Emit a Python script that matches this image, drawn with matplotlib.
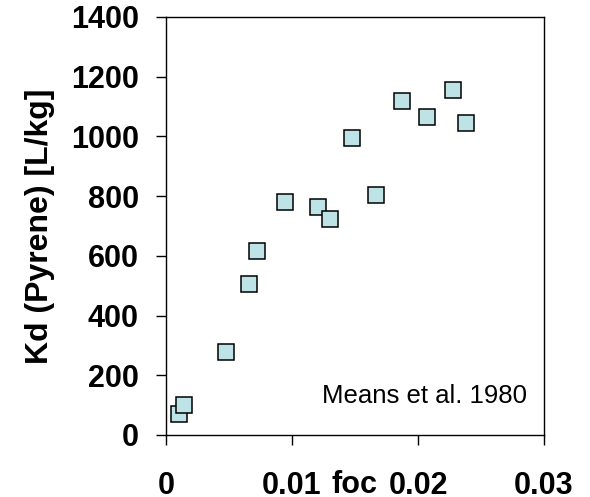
import matplotlib
matplotlib.use('Agg')
import matplotlib.pyplot as plt

# organic carbon fraction vs sorption coefficient for pyrene
foc = [0.00103, 0.00143, 0.00476, 0.00656, 0.0072, 0.00947, 0.01206,
       0.01302, 0.01474, 0.01669, 0.01876, 0.02071, 0.02275, 0.02378]
kd = [71, 101, 277, 507, 616, 781, 762, 722, 995, 805, 1117, 1064, 1154, 1044]

xticks = [0, 0.01, 0.02, 0.03]
xticklabels = ['0', '0.01', '0.02', '0.03']
yticks = [0, 200, 400, 600, 800, 1000, 1200, 1400]

plt.rcParams['font.family'] = ['Liberation Sans', 'DejaVu Sans']

fig = plt.figure(figsize=(5.9, 4.97), dpi=100)
ax = fig.add_axes([166/590, 1 - 435/497, (544-166)/590, (435-17)/497])

ax.plot(foc, kd, linestyle='none', marker='s', markersize=11,
        markerfacecolor='#BDE3E6', markeredgecolor='black', markeredgewidth=1.1)

ax.set_xlim(0, 0.03)
ax.set_ylim(0, 1400)
ax.set_xticks(xticks)
ax.set_xticklabels(xticklabels)
ax.set_yticks(yticks)
ax.tick_params(axis='both', direction='out', length=7.5, width=1, labelsize=22)
ax.tick_params(axis='x', pad=18.5)
ax.tick_params(axis='y', pad=12)
for lab in ax.get_xticklabels() + ax.get_yticklabels():
    lab.set_fontweight('bold')
for s in ax.spines.values():
    s.set_linewidth(1)

ax.text(0.5, -0.1395, 'foc', transform=ax.transAxes, ha='center', va='baseline',
        fontsize=22, fontweight='bold')
ax.set_ylabel('Kd (Pyrene) [L/kg]', fontsize=23, fontweight='bold')
ax.yaxis.set_label_coords(-0.294, 0.5)

ax.text(0.02865, 107, 'Means et al. 1980', ha='right', va='baseline', fontsize=18.5)

fig.savefig('out.png', dpi=100)
